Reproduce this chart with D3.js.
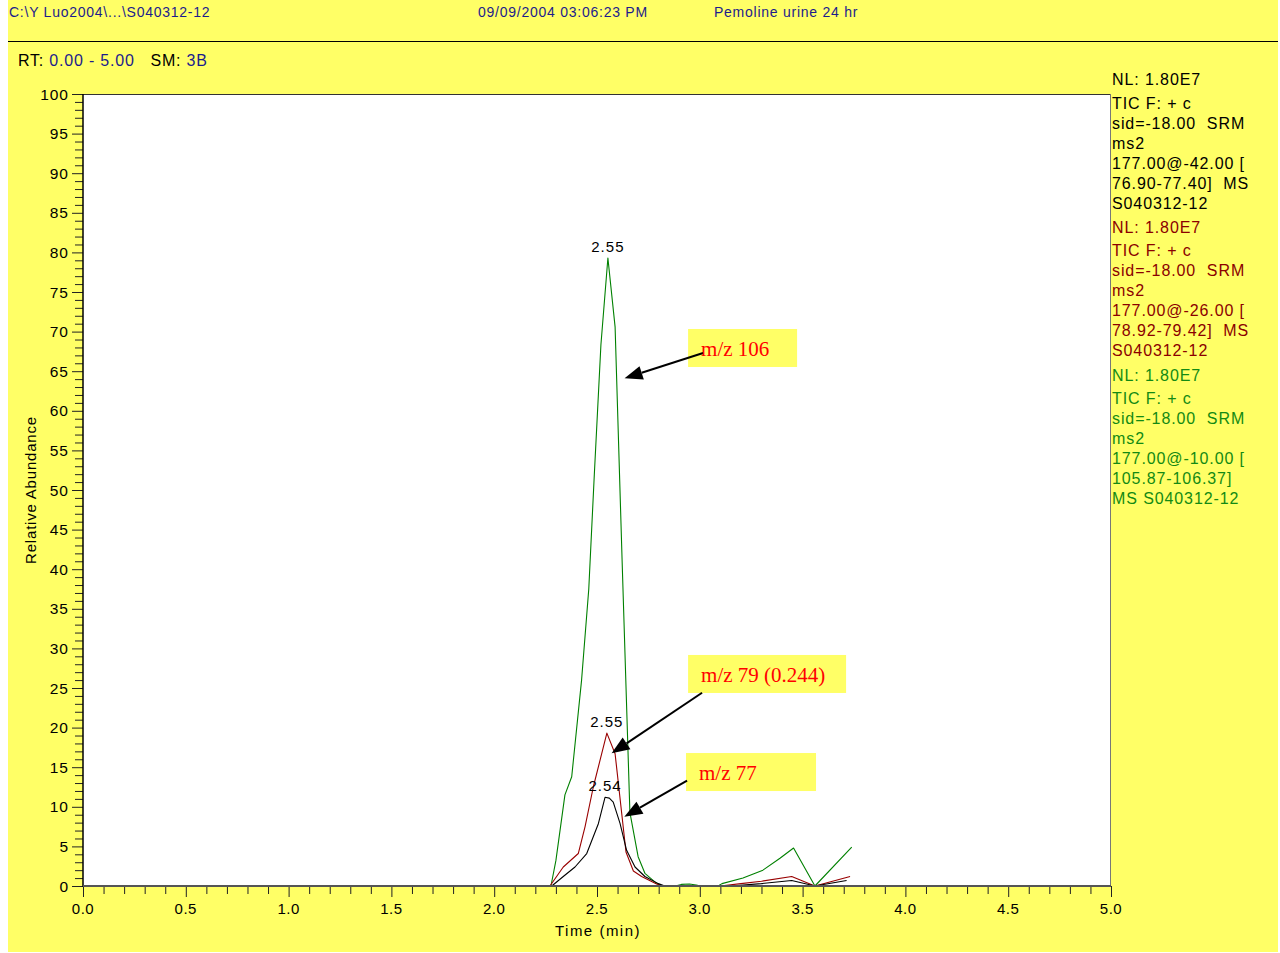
<!DOCTYPE html>
<html><head><meta charset="utf-8">
<script src="https://cdn.jsdelivr.net/npm/d3@7"></script>
<style>
html,body{margin:0;padding:0;background:#fff;}
svg{display:block;font-family:"Liberation Sans",Arial,sans-serif;}
</style></head><body>
<svg id="chart" width="1280" height="953"></svg>
<script>
// SRM chromatogram traces: retention time (min) vs relative abundance (%)
const timeMz77  = [0.00, 2.280, 2.336, 2.393, 2.450, 2.507, 2.539, 2.560, 2.579, 2.612, 2.644, 2.685, 2.733, 2.798, 2.830, 3.150, 3.300, 3.447, 3.560, 3.714];
const abundMz77 = [0, 0, 1.2, 2.4, 4.1, 7.9, 11.2, 11.1, 10.6, 7.9, 4.5, 2.4, 1.2, 0.3, 0, 0, 0.3, 0.7, 0, 0.7];

const timeMz79  = [0.00, 2.271, 2.336, 2.409, 2.442, 2.482, 2.548, 2.588, 2.641, 2.677, 2.717, 2.790, 2.820, 3.100, 3.200, 3.300, 3.447, 3.560, 3.731];
const abundMz79 = [0, 0, 2.4, 4.1, 7.5, 12.5, 19.3, 16.7, 4.3, 1.9, 1.2, 0.25, 0, 0, 0.3, 0.6, 1.2, 0, 1.2];

const timeMz106  = [0.00, 2.276, 2.300, 2.344, 2.377, 2.425, 2.460, 2.487, 2.519, 2.553, 2.588, 2.622, 2.660, 2.700, 2.733, 2.787, 2.816, 2.880, 2.910, 2.950, 2.990, 3.030, 3.089, 3.108, 3.210, 3.307, 3.390, 3.456, 3.560, 3.739];
const abundMz106 = [0, 0, 3.2, 11.5, 13.8, 26, 37.5, 52, 68.3, 79.3, 70.6, 41.2, 9.3, 3.7, 1.6, 0.4, 0, 0, 0.2, 0.25, 0.1, 0, 0, 0.3, 1.0, 2.0, 3.5, 4.8, 0, 4.9];

const seriesNames  = ["m/z 77", "m/z 79", "m/z 106"];
const seriesColors = ["#000000", "#990000", "#008000"];

// Axis ticks
const xTickLabels = ["0.0", "0.5", "1.0", "1.5", "2.0", "2.5", "3.0", "3.5", "4.0", "4.5", "5.0"];
const yTickLabels = ["0", "5", "10", "15", "20", "25", "30", "35", "40", "45", "50", "55", "60", "65", "70", "75", "80", "85", "90", "95", "100"];

// Header and scan information
const headerPath  = "C:\\Y Luo2004\\...\\S040312-12";
const headerDate  = "09/09/2004 03:06:23 PM";
const headerTitle = "Pemoline urine 24 hr";
const rtRange = "0.00 - 5.00";
const smooth  = "3B";

// Per-trace scan filter descriptions
const legendMz77  = ["NL: 1.80E7", "TIC F: + c", "sid=-18.00  SRM", "ms2", "177.00@-42.00 [", "76.90-77.40]  MS", "S040312-12"];
const legendMz79  = ["NL: 1.80E7", "TIC F: + c", "sid=-18.00  SRM", "ms2", "177.00@-26.00 [", "78.92-79.42]  MS", "S040312-12"];
const legendMz106 = ["NL: 1.80E7", "TIC F: + c", "sid=-18.00  SRM", "ms2", "177.00@-10.00 [", "105.87-106.37]", "MS S040312-12"];
const legendColors = ["#000000", "#8b0000", "#138a13"];

// Callout labels
const calloutText = ["m/z 106", "m/z 79 (0.244)", "m/z 77"];
const calloutBoxTime = [2.943, 2.943, 2.933];
const calloutBoxAbund = [70.33, 29.17, 16.79];
const calloutBoxWidth = [109, 158, 130];
const calloutTailTime = [3.016, 3.011, 2.938];
const calloutTailAbund = [67.3, 24.4, 13.3];
const calloutTipTime = [2.634, 2.571, 2.633];
const calloutTipAbund = [64.1, 16.75, 8.75];

const svg = d3.select("#chart");

// Page background
svg.append("rect").attr("x", 8).attr("y", 0).attr("width", 1270).attr("height", 952).attr("fill", "#ffff66");
svg.append("line").attr("x1", 8).attr("x2", 1278).attr("y1", 41.5).attr("y2", 41.5).attr("stroke", "#000").attr("stroke-width", 1);

const hdr = svg.append("g").attr("fill", "#1c1c8c").attr("font-size", 14).attr("letter-spacing", 0.75);
hdr.append("text").attr("x", 9).attr("y", 17).text(headerPath);
hdr.append("text").attr("x", 478).attr("y", 17).text(headerDate);
hdr.append("text").attr("x", 714).attr("y", 17).text(headerTitle);

const rt = svg.append("text").attr("x", 18).attr("y", 66).attr("font-size", 16).attr("letter-spacing", 0.8);
rt.append("tspan").attr("fill", "#000").text("RT: ");
rt.append("tspan").attr("fill", "#1c1c8c").text(rtRange);
rt.append("tspan").attr("fill", "#000").attr("xml:space", "preserve").text("   SM: ");
rt.append("tspan").attr("fill", "#1c1c8c").text(smooth);

// Scales
const x = d3.scaleLinear().domain([0, 5]).range([83, 1111]);
const y = d3.scaleLinear().domain([0, 100]).range([886, 94]);

// Plot area
svg.append("rect").attr("x", x(0)).attr("y", y(100)).attr("width", x(5) - x(0)).attr("height", y(0) - y(100))
  .attr("fill", "#fff");
svg.append("line").attr("x1", x(0)).attr("x2", x(5)).attr("y1", y(100) + 0.5).attr("y2", y(100) + 0.5).attr("stroke", "#333");
svg.append("line").attr("x1", x(5) - 0.5).attr("x2", x(5) - 0.5).attr("y1", y(100)).attr("y2", y(0)).attr("stroke", "#777");

// Traces
const traces = [
  d3.zip(timeMz77, abundMz77),
  d3.zip(timeMz79, abundMz79),
  d3.zip(timeMz106, abundMz106)
];
const line = d3.line().x(d => x(d[0])).y(d => y(d[1]));
const drawOrder = [2, 1, 0];
drawOrder.forEach(i => {
  svg.append("path").datum(traces[i]).attr("d", line)
    .attr("fill", "none").attr("stroke", seriesColors[i]).attr("stroke-width", 1.1)
    .attr("stroke-linejoin", "round");
});

// Apex labels
const fmt = d3.format(".2f");
traces.forEach(tr => {
  const apex = tr[d3.maxIndex(tr, d => d[1])];
  svg.append("text").attr("x", x(apex[0])).attr("y", y(apex[1]) - 6)
    .attr("text-anchor", "middle").attr("font-size", 15).attr("letter-spacing", 1)
    .attr("fill", "#000").text(fmt(apex[0]));
});

// Y axis
const yAxisG = svg.append("g").attr("transform", `translate(${x(0)},0)`);
yAxisG.call(d3.axisLeft(y).tickValues(d3.range(0, 101, 1)).tickSize(8).tickFormat(""))
  .call(g => g.select(".domain").remove())
  .call(g => g.selectAll(".tick line").attr("stroke", "#222"));
yAxisG.call(g => g.selectAll(".tick").filter(d => d % 5 === 0).select("line").attr("x2", -11));
yAxisG.selectAll(".ylab").data(yTickLabels).join("text").attr("class", "ylab")
  .attr("x", -14).attr("y", d => y(+d)).attr("dy", "0.36em")
  .attr("text-anchor", "end").attr("font-size", 15.5).attr("letter-spacing", 1).attr("fill", "#000").text(d => d);
svg.append("line").attr("x1", x(0)).attr("x2", x(0)).attr("y1", y(100)).attr("y2", y(0) + 1)
  .attr("stroke", "#000").attr("stroke-width", 1.5);

// X axis
const xAxisG = svg.append("g").attr("transform", `translate(0,${y(0)})`);
xAxisG.call(d3.axisBottom(x).tickValues(d3.range(0, 51).map(d => d / 10)).tickSize(8).tickFormat(""))
  .call(g => g.select(".domain").remove())
  .call(g => g.selectAll(".tick line").attr("stroke", "#222"));
xAxisG.call(g => g.selectAll(".tick").filter(d => Math.abs(d * 2 - Math.round(d * 2)) < 1e-6).select("line").attr("y2", 11));
xAxisG.selectAll(".xlab").data(xTickLabels).join("text").attr("class", "xlab")
  .attr("x", d => x(+d)).attr("y", 28).attr("text-anchor", "middle").attr("font-size", 15)
  .attr("letter-spacing", 0.5).attr("fill", "#000").text(d => d);
svg.append("line").attr("x1", x(0)).attr("x2", x(5)).attr("y1", y(0)).attr("y2", y(0))
  .attr("stroke", "#555").attr("stroke-width", 2);

// Axis titles
svg.append("text").attr("transform", `translate(36,${(y(0) + y(100)) / 2}) rotate(-90)`)
  .attr("text-anchor", "middle").attr("font-size", 15).attr("letter-spacing", 0.8).attr("fill", "#000")
  .text("Relative Abundance");
svg.append("text").attr("x", (x(0) + x(5)) / 2 + 1).attr("y", 936).attr("text-anchor", "middle")
  .attr("font-size", 15).attr("letter-spacing", 1.5).attr("fill", "#000").text("Time (min)");

// Scan filter legend
const legendBlocks = [legendMz77, legendMz79, legendMz106];
const blockTop = [85, 232.5, 380.5];
legendBlocks.forEach((lines, b) => {
  const g = svg.append("g").attr("fill", legendColors[b]).attr("font-size", 16).attr("letter-spacing", 0.9);
  lines.forEach((t, i) => {
    g.append("text").attr("x", 1112).attr("y", blockTop[b] + (i === 0 ? 0 : 23.5 + (i - 1) * 20))
      .attr("xml:space", "preserve").text(t);
  });
});

// Callouts with arrows
calloutText.forEach((t, i) => {
  const bx = x(calloutBoxTime[i]), by = y(calloutBoxAbund[i]);
  svg.append("rect").attr("x", bx).attr("y", by).attr("width", calloutBoxWidth[i]).attr("height", 38)
    .attr("fill", "#ffff66");
  const x1 = x(calloutTailTime[i]), y1 = y(calloutTailAbund[i]);
  const x2 = x(calloutTipTime[i]), y2 = y(calloutTipAbund[i]);
  const dx = x2 - x1, dy = y2 - y1, len = Math.hypot(dx, dy);
  const ux = dx / len, uy = dy / len, head = 18, hw = 7;
  const bxh = x2 - ux * head, byh = y2 - uy * head;
  svg.append("line").attr("x1", x1).attr("y1", y1).attr("x2", bxh).attr("y2", byh)
    .attr("stroke", "#000").attr("stroke-width", 2);
  svg.append("path").attr("d", `M${x2},${y2}L${bxh - uy * hw},${byh + ux * hw}L${bxh + uy * hw},${byh - ux * hw}Z`)
    .attr("fill", "#000");
  svg.append("text").attr("x", bx + 13).attr("y", by + 27)
    .style("font-family", "'Liberation Serif','Times New Roman',serif").attr("font-size", 21)
    .attr("fill", "#ff0000").text(t);
});
</script>
</body></html>
